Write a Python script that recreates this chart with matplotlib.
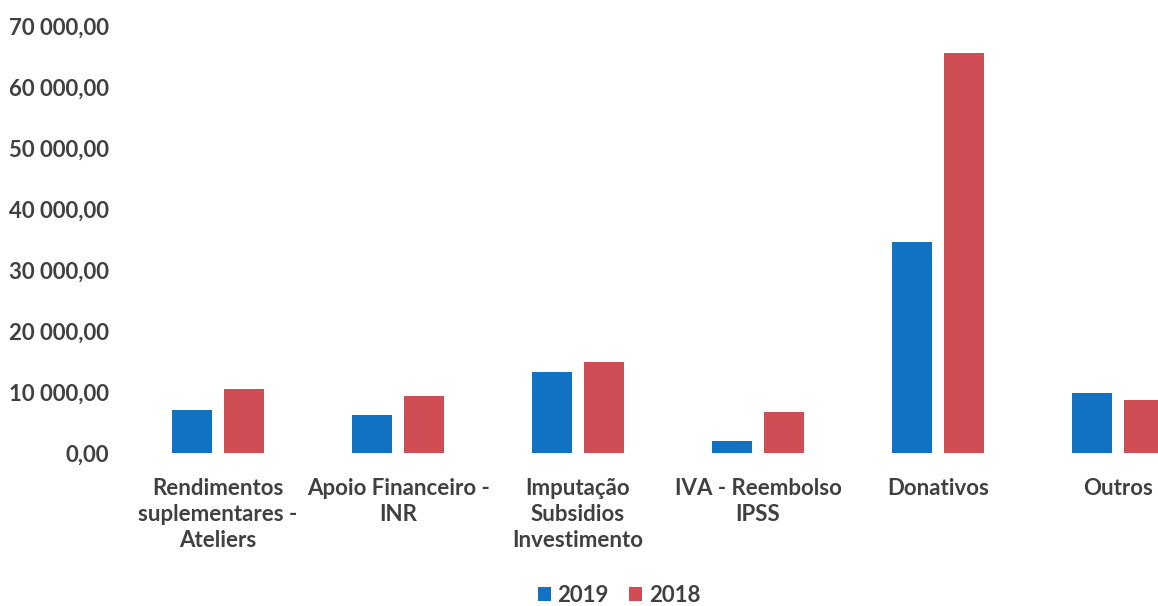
import numpy as np
import matplotlib
matplotlib.use('Agg')
from matplotlib import pyplot as plt

# data
categories = ['Rendimentos\nsuplementares -\nAteliers', 'Apoio Financeiro -\nINR',
              'Imputação\nSubsidios\nInvestimento', 'IVA - Reembolso\nIPSS',
              'Donativos', 'Outros']
v2019 = [7050, 6230, 13280, 1970, 34590, 9840]
v2018 = [10490, 9340, 14920, 6720, 65570, 8690]
yticks = [0, 10000, 20000, 30000, 40000, 50000, 60000, 70000]

blue = '#1172C4'
red = '#CF4E55'
txt = '#404040'

plt.rcParams['font.family'] = ['Lato', 'DejaVu Sans']
plt.rcParams['font.weight'] = 'bold'

fig = plt.figure(figsize=(11.58, 6.06), dpi=100)
ax = fig.add_axes([128/1158, 153/606, 1 - 128/1158, 427/606])

x = np.arange(len(categories))
w = 0.222
ax.bar(x - 0.142, v2019, w, color=blue, label='2019')
ax.bar(x + 0.142, v2018, w, color=red, label='2018')

# right edge cut off like in the original screenshot
ax.set_xlim(-0.5, 5.222)
ax.set_ylim(0, 70000)
ax.set_yticks(yticks)
ax.set_yticklabels([f'{v:,.2f}'.replace(',', ' ').replace('.', ',') for v in yticks])
ax.set_xticks(x)
ax.set_xticklabels(categories, linespacing=1.3)

for s in ax.spines.values():
    s.set_visible(False)
ax.tick_params(axis='both', length=0, labelsize=16, colors=txt)
ax.tick_params(axis='y', pad=14)
ax.tick_params(axis='x', pad=18)

fig.legend(loc='center', bbox_to_anchor=(619/1158, 1 - 595/606), ncol=2, frameon=False,
           fontsize=16, labelcolor=txt, handlelength=0.6, handleheight=0.6,
           handletextpad=0.3, columnspacing=0.9)

fig.savefig('out.png', dpi=100)
